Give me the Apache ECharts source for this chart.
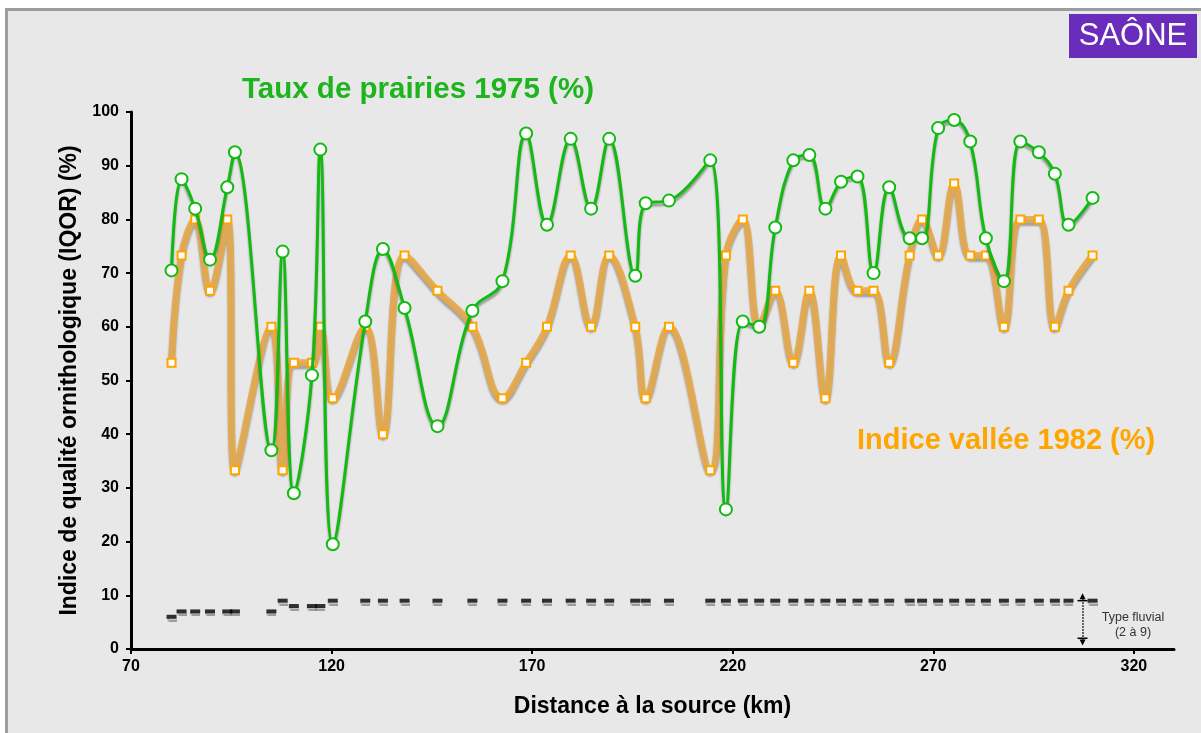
<!DOCTYPE html>
<html>
<head>
<meta charset="utf-8">
<title>Saône - IQOR</title>
<script src="https://cdn.jsdelivr.net/npm/echarts@6/dist/echarts.min.js"></script>
<style>
  html, body { margin: 0; padding: 0; background: #fff; }
  #frame {
    position: absolute; left: 5px; top: 8px; width: 1200px; height: 730px;
    background: #e8e8e8; border-top: 3px solid #9c9c9c; border-left: 3px solid #9c9c9c;
  }
  #chart { position: absolute; left: 0; top: 0; width: 1201px; height: 733px; }
</style>
</head>
<body>
<div id="frame"></div>
<div id="chart"></div>
<script>
// distance à la source (km) de chaque station
var km = [80.1, 82.6, 86.0, 89.7, 94.0, 95.9, 105.0, 107.8, 110.6, 115.1,
  117.2, 120.3, 128.4, 132.8, 138.2, 146.4, 155.1, 162.6, 168.5, 173.7,
  179.6, 184.7, 189.2, 195.7, 198.3, 204.1, 214.4, 218.3, 222.5, 226.6,
  230.6, 235.1, 239.1, 243.1, 247.0, 251.1, 255.1, 259.0, 264.1, 267.2,
  271.2, 275.2, 279.2, 283.1, 287.6, 291.7, 296.3, 300.3, 303.7, 309.7];

// taux de prairies 1975 (%)
var prairies1975 = [70.5, 87.5, 82, 72.5, 86, 92.5, 37, 74, 29, 51,
  93, 19.5, 61, 74.5, 63.5, 41.5, 63, 68.5, 96, 79,
  95, 82, 95, 69.5, 83, 83.5, 91, 26, 61, 60,
  78.5, 91, 92, 82, 87, 88, 70, 86, 76.5, 76.5,
  97, 98.5, 94.5, 76.5, 68.5, 94.5, 92.5, 88.5, 79, 84];

// indice vallée 1982 (%)
var indice1982 = [53.3, 73.3, 80, 66.7, 80, 33.3, 60, 33.3, 53.3, 53.3,
  60, 46.7, 60, 40, 73.3, 66.7, 60, 46.7, 53.3, 60,
  73.3, 60, 73.3, 60, 46.7, 60, 33.3, 73.3, 80, 60,
  66.7, 53.3, 66.7, 46.7, 73.3, 66.7, 66.7, 53.3, 73.3, 80,
  73.3, 86.7, 73.3, 73.3, 60, 80, 80, 60, 66.7, 73.3];

// type fluvial (2 à 9)
var typeFluvial = [6, 7, 7, 7, 7, 7, 7, 9, 8, 8,
  8, 9, 9, 9, 9, 9, 9, 9, 9, 9,
  9, 9, 9, 9, 9, 9, 9, 9, 9, 9,
  9, 9, 9, 9, 9, 9, 9, 9, 9, 9,
  9, 9, 9, 9, 9, 9, 9, 9, 9, 9];

// échelle du type fluvial (repère à droite)
var typeScaleKm = 307.2;
var typeScaleRange = [1.2, 9.8];

function pairs(vals) {
  return km.map(function (k, i) { return [k, vals[i]]; });
}

var chart = echarts.init(document.getElementById("chart"));
var shadow = {
  shadowColor: "rgba(0,0,0,0.35)",
  shadowBlur: 2,
  shadowOffsetY: 3
};

chart.setOption({
  animation: false,
  textStyle: { fontFamily: "Liberation Sans, Arial, sans-serif" },
  title: [
    {
      text: "Taux de prairies 1975 (%)",
      left: 237, top: 70,
      textStyle: { color: "#1db41d", fontSize: 29.5, fontWeight: "bold" }
    },
    {
      text: "Indice vallée 1982 (%)",
      left: 852, top: 421,
      textStyle: { color: "#ffa500", fontSize: 29, fontWeight: "bold" }
    }
  ],
  graphic: [
    {
      type: "rect",
      shape: { x: 1069, y: 14, width: 128, height: 44 },
      style: { fill: "#6a2cbb" }
    },
    {
      type: "text",
      x: 1133, y: 36,
      style: {
        text: "SAÔNE", fill: "#fff", fontSize: 31,
        fontFamily: "Liberation Sans Narrow, Liberation Sans, Arial",
        align: "center", verticalAlign: "middle"
      }
    },
    {
      type: "text",
      x: 1133, y: 625,
      style: {
        text: "Type fluvial\n(2 à 9)", fill: "#333", fontSize: 12.5, lineHeight: 15,
        fontFamily: "Liberation Sans, Arial",
        align: "center", verticalAlign: "middle"
      }
    }
  ],
  grid: { left: 131, right: 27, top: 112, bottom: 84 },
  xAxis: {
    type: "value",
    min: 70, max: 330, interval: 50,
    name: "Distance à la source (km)",
    nameLocation: "middle",
    nameGap: 46,
    nameTextStyle: { fontSize: 23, fontWeight: "bold", color: "#000" },
    axisLine: { onZero: false, lineStyle: { color: "#000", width: 3 } },
    axisTick: { length: 5, lineStyle: { color: "#000", width: 2 } },
    axisLabel: { color: "#000", fontSize: 16, fontWeight: "bold", margin: 10, showMaxLabel: false },
    splitLine: { show: false }
  },
  yAxis: {
    type: "value",
    min: 0, max: 100, interval: 10,
    name: "Indice de qualité ornithologique (IQOR) (%)",
    nameLocation: "middle",
    nameGap: 45,
    nameTextStyle: { fontSize: 23, fontWeight: "bold", color: "#000" },
    axisLine: { show: true, lineStyle: { color: "#000", width: 3 } },
    axisTick: { show: true, length: 5, lineStyle: { color: "#000", width: 2 } },
    axisLabel: { color: "#000", fontSize: 16, fontWeight: "bold", margin: 12 },
    splitLine: { show: false }
  },
  series: [
    {
      name: "Indice vallée 1982",
      type: "line",
      data: pairs(indice1982),
      smooth: 0.4,
      symbol: "rect",
      symbolSize: 8,
      lineStyle: Object.assign({ color: "rgba(228,168,76,0.9)", width: 7 }, shadow),
      itemStyle: { color: "#fff", borderColor: "#ffa500", borderWidth: 2 },
      z: 2
    },
    {
      name: "Taux de prairies 1975",
      type: "line",
      data: pairs(prairies1975),
      smooth: 0.4,
      symbol: "circle",
      symbolSize: 12,
      lineStyle: Object.assign({ color: "#11bb11", width: 3 }, shadow),
      itemStyle: { color: "#fff", borderColor: "#11bb11", borderWidth: 2 },
      z: 3
    },
    {
      name: "Type fluvial",
      type: "scatter",
      data: pairs(typeFluvial),
      symbol: "rect",
      symbolSize: [10, 4],
      itemStyle: { color: "#000", shadowColor: "rgba(0,0,0,0.4)", shadowBlur: 1, shadowOffsetY: 3 },
      z: 4,
      markLine: {
        silent: true,
        symbol: ["triangle", "triangle"],
        symbolSize: 6,
        label: { show: false },
        lineStyle: { color: "#000", type: "dotted", width: 1.5 },
        data: [[
          { coord: [typeScaleKm, typeScaleRange[1]] },
          { coord: [typeScaleKm, typeScaleRange[0]] }
        ]]
      },
      markPoint: {
        silent: true,
        symbol: "rect",
        symbolSize: [10, 1.5],
        label: { show: false },
        itemStyle: { color: "#000" },
        data: [
          { coord: [typeScaleKm, 2] },
          { coord: [typeScaleKm, 9] }
        ]
      }
    }
  ]
});
</script>
</body>
</html>
